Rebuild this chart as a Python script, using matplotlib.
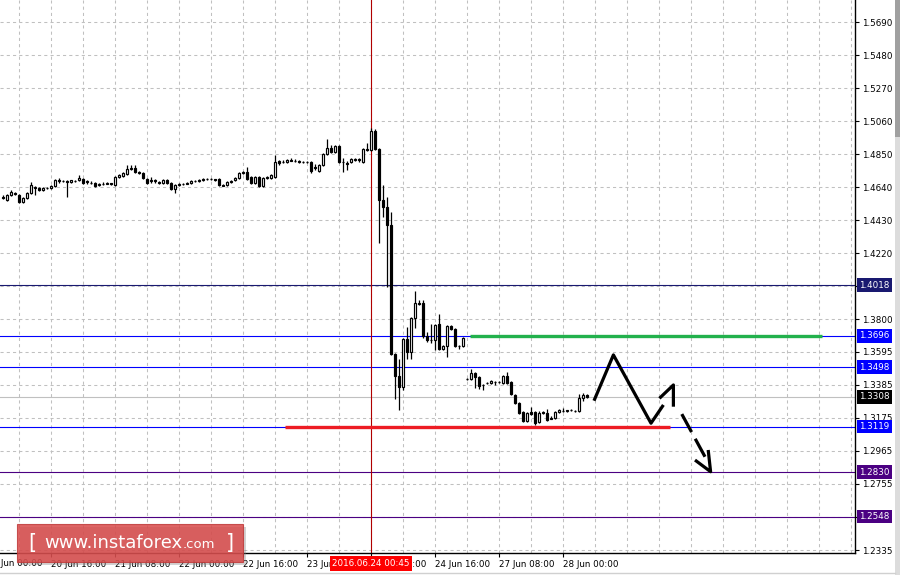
import numpy as np
import matplotlib
matplotlib.use('Agg')
import matplotlib.pyplot as plt
from matplotlib.patches import Rectangle

# GBPUSD H1 bars, index 0 = 20 Jun 00:00 (weekend hours skipped)
first_bar = 4
bar_open = [
    1.4578, 1.4559, 1.4591, 1.4604, 1.4591, 1.4546, 1.4572, 1.4604, 1.4635, 1.4635,
    1.4623, 1.4635, 1.4635, 1.4648, 1.4686, 1.4680, 1.4680, 1.4674, 1.4680, 1.4686,
    1.4693, 1.4674, 1.4667, 1.4667, 1.4654, 1.4661, 1.4661, 1.4667, 1.4654, 1.4705,
    1.4712, 1.4724, 1.4756, 1.4762, 1.4737, 1.4731, 1.4693, 1.4680, 1.4686, 1.4674,
    1.4667, 1.4686, 1.4667, 1.4629, 1.4654, 1.4661, 1.4658, 1.4667, 1.4680, 1.4680,
    1.4686, 1.4693, 1.4690, 1.4693, 1.4693, 1.4654, 1.4654, 1.4674, 1.4686, 1.4699,
    1.4731, 1.4737, 1.4705, 1.4667, 1.4705, 1.4648, 1.4699, 1.4699, 1.4705, 1.4807,
    1.4801, 1.4801, 1.4813, 1.4810, 1.4807, 1.4801, 1.4798, 1.4801, 1.4769, 1.4743,
    1.4781, 1.4851, 1.4890, 1.4864, 1.4902, 1.4801, 1.4794, 1.4801, 1.4813, 1.4820,
    1.4801, 1.4883, 1.4877, 1.4998, 1.4883, 1.4559, 1.4515, 1.4401, 1.3581, 1.3441,
    1.3371, 1.3676, 1.3594, 1.3810, 1.3905, 1.3905, 1.3695, 1.3670, 1.3670, 1.3771,
    1.3613, 1.3632, 1.3759, 1.3740, 1.3632, 1.3632, 1.3422, 1.3422, 1.3460, 1.3434,
    1.3384, 1.3397, 1.3397, 1.3403, 1.3403, 1.3397, 1.3441, 1.3403, 1.3320, 1.3269,
    1.3212, 1.3155, 1.3212, 1.3212, 1.3149, 1.3212, 1.3206, 1.3174, 1.3174, 1.3212,
    1.3219, 1.3219, 1.3225, 1.3219, 1.3219, 1.3301, 1.3320]
bar_high = [
    1.4591, 1.4597, 1.4623, 1.4610, 1.4597, 1.4578, 1.4610, 1.4674, 1.4648, 1.4642,
    1.4642, 1.4642, 1.4654, 1.4693, 1.4699, 1.4686, 1.4686, 1.4686, 1.4686, 1.4718,
    1.4699, 1.4686, 1.4680, 1.4674, 1.4667, 1.4674, 1.4674, 1.4667, 1.4712, 1.4724,
    1.4737, 1.4781, 1.4781, 1.4781, 1.4743, 1.4737, 1.4699, 1.4705, 1.4693, 1.4680,
    1.4693, 1.4693, 1.4674, 1.4661, 1.4667, 1.4667, 1.4674, 1.4686, 1.4686, 1.4693,
    1.4699, 1.4699, 1.4699, 1.4693, 1.4699, 1.4661, 1.4680, 1.4686, 1.4705, 1.4737,
    1.4743, 1.4769, 1.4712, 1.4712, 1.4712, 1.4705, 1.4712, 1.4724, 1.4845, 1.4813,
    1.4813, 1.4820, 1.4826, 1.4820, 1.4813, 1.4807, 1.4807, 1.4807, 1.4788, 1.4788,
    1.4858, 1.4947, 1.4909, 1.4909, 1.4909, 1.4826, 1.4807, 1.4826, 1.4826, 1.4826,
    1.4890, 1.4921, 1.5017, 1.5011, 1.4890, 1.4654, 1.4578, 1.4483, 1.3588, 1.3549,
    1.3683, 1.3752, 1.3816, 1.3981, 1.3924, 1.3924, 1.3721, 1.3771, 1.3771, 1.3835,
    1.3638, 1.3765, 1.3765, 1.3746, 1.3638, 1.3689, 1.3428, 1.3485, 1.3466, 1.3441,
    1.3390, 1.3403, 1.3416, 1.3409, 1.3409, 1.3447, 1.3466, 1.3409, 1.3327, 1.3276,
    1.3219, 1.3212, 1.3244, 1.3219, 1.3219, 1.3219, 1.3231, 1.3187, 1.3219, 1.3231,
    1.3238, 1.3225, 1.3231, 1.3225, 1.3327, 1.3333, 1.3327]
bar_low = [
    1.4566, 1.4553, 1.4585, 1.4591, 1.4540, 1.4540, 1.4566, 1.4597, 1.4591, 1.4616,
    1.4616, 1.4629, 1.4629, 1.4642, 1.4667, 1.4674, 1.4578, 1.4667, 1.4674, 1.4680,
    1.4661, 1.4661, 1.4661, 1.4642, 1.4648, 1.4654, 1.4661, 1.4654, 1.4648, 1.4699,
    1.4705, 1.4718, 1.4750, 1.4731, 1.4724, 1.4693, 1.4661, 1.4667, 1.4667, 1.4661,
    1.4661, 1.4661, 1.4623, 1.4604, 1.4648, 1.4654, 1.4658, 1.4661, 1.4674, 1.4674,
    1.4680, 1.4686, 1.4686, 1.4680, 1.4648, 1.4648, 1.4648, 1.4667, 1.4680, 1.4693,
    1.4724, 1.4686, 1.4661, 1.4661, 1.4642, 1.4642, 1.4693, 1.4693, 1.4699, 1.4781,
    1.4794, 1.4794, 1.4807, 1.4801, 1.4794, 1.4794, 1.4794, 1.4731, 1.4750, 1.4737,
    1.4775, 1.4845, 1.4858, 1.4858, 1.4794, 1.4737, 1.4750, 1.4794, 1.4807, 1.4801,
    1.4794, 1.4870, 1.4870, 1.4877, 1.4286, 1.4451, 1.4006, 1.3575, 1.3295, 1.3225,
    1.3352, 1.3549, 1.3549, 1.3746, 1.3892, 1.3683, 1.3657, 1.3651, 1.3606, 1.3606,
    1.3606, 1.3562, 1.3733, 1.3626, 1.3613, 1.3626, 1.3416, 1.3416, 1.3365, 1.3358,
    1.3352, 1.3390, 1.3390, 1.3384, 1.3397, 1.3390, 1.3390, 1.3320, 1.3263, 1.3199,
    1.3149, 1.3149, 1.3193, 1.3130, 1.3142, 1.3199, 1.3155, 1.3168, 1.3168, 1.3206,
    1.3212, 1.3212, 1.3219, 1.3212, 1.3212, 1.3282, 1.3301]
bar_close = [
    1.4572, 1.4591, 1.4610, 1.4597, 1.4546, 1.4572, 1.4604, 1.4654, 1.4642, 1.4623,
    1.4635, 1.4638, 1.4648, 1.4686, 1.4680, 1.4683, 1.4674, 1.4686, 1.4683, 1.4699,
    1.4667, 1.4677, 1.4664, 1.4648, 1.4661, 1.4658, 1.4667, 1.4661, 1.4705, 1.4718,
    1.4731, 1.4756, 1.4762, 1.4737, 1.4731, 1.4699, 1.4667, 1.4686, 1.4680, 1.4667,
    1.4686, 1.4667, 1.4629, 1.4654, 1.4661, 1.4658, 1.4667, 1.4680, 1.4677, 1.4686,
    1.4693, 1.4690, 1.4693, 1.4686, 1.4654, 1.4651, 1.4674, 1.4680, 1.4699, 1.4731,
    1.4737, 1.4693, 1.4667, 1.4705, 1.4648, 1.4699, 1.4705, 1.4718, 1.4801, 1.4794,
    1.4798, 1.4813, 1.4810, 1.4807, 1.4801, 1.4798, 1.4801, 1.4743, 1.4762, 1.4781,
    1.4851, 1.4890, 1.4864, 1.4902, 1.4801, 1.4798, 1.4790, 1.4820, 1.4820, 1.4813,
    1.4883, 1.4877, 1.4998, 1.4883, 1.4559, 1.4515, 1.4401, 1.3581, 1.3441, 1.3371,
    1.3676, 1.3594, 1.3810, 1.3905, 1.3899, 1.3695, 1.3670, 1.3667, 1.3765, 1.3613,
    1.3632, 1.3759, 1.3740, 1.3632, 1.3629, 1.3683, 1.3419, 1.3460, 1.3434, 1.3377,
    1.3381, 1.3394, 1.3409, 1.3400, 1.3406, 1.3441, 1.3397, 1.3327, 1.3269, 1.3206,
    1.3155, 1.3206, 1.3199, 1.3142, 1.3206, 1.3209, 1.3161, 1.3171, 1.3212, 1.3225,
    1.3216, 1.3222, 1.3228, 1.3216, 1.3301, 1.3320, 1.3308]

price_ticks = [1.5690, 1.5480, 1.5270, 1.5060, 1.4850, 1.4640, 1.4430, 1.4220, 1.4010,
               1.3800, 1.3595, 1.3385, 1.3175, 1.2965, 1.2755, 1.2545, 1.2335]
hidden_ticks = [1.4010, 1.2545]   # covered by level boxes in the terminal
time_ticks = [0, 16, 32, 48, 64, 80, 96, 112, 128, 144]
time_labels = ['20 Jun 00:00', '20 Jun 16:00', '21 Jun 08:00', '22 Jun 00:00',
               '22 Jun 16:00', '23 Jun 08:00', '24 Jun 00:00', '24 Jun 16:00',
               '27 Jun 08:00', '28 Jun 00:00']

levels = [1.4018, 1.3696, 1.3498, 1.3119, 1.2830, 1.2548]
level_colors = ['#191970', '#0000ff', '#0000ff', '#0000ff', '#4b0082', '#4b0082']

crosshair_bar = 96
crosshair_label = '2016.06.24 00:45'

resistance = (120.75, 208.75, 1.3696)
support = (74.5, 170.75, 1.3119)
forecast_path = [(151.75, 1.3284), (156.6, 1.3575), (166.0, 1.3141), (169.1, 1.3257)]
forecast_head = [(168.1, 1.3299), (171.6, 1.3384), (171.6, 1.3246)]
target_path = [(173.7, 1.3199), (179.5, 1.2928)]
target_head = [(177.0, 1.2907), (180.9, 1.2833), (180.3, 1.2971)]

plt.rcParams['font.family'] = ['DejaVu Sans']
W, H = 900, 575
fig = plt.figure(figsize=(9, 5.75), dpi=100)
ax = fig.add_axes([0, 22 / H, 855 / W, 553 / H])
ax.set_xlim(3.25, 217)
ax.set_ylim(1.23165, 1.58298)

# grid
grid_kw = dict(color='#c0c0c0', lw=0.75, ls=(0, (3, 3)), zorder=1)
for gx in np.arange(0, 217, 8):
    ax.axvline(gx, **grid_kw)
for gy in price_ticks:
    ax.axhline(gy, **grid_kw)

# horizontal levels
for lv, col in zip(levels, level_colors):
    ax.axhline(lv, color=col, lw=0.8, zorder=2)
last_price = bar_close[-1]
ax.axhline(last_price, color='#c0c0c0', lw=0.8, zorder=2)
ax.axvline(crosshair_bar, color='#b00000', lw=0.8, zorder=2)

# candles
o = np.array(bar_open)
h = np.array(bar_high)
l = np.array(bar_low)
c = np.array(bar_close)
x = np.arange(first_bar, first_bar + len(c))
up = c >= o
lo = np.minimum(o, c)
hh = np.maximum(np.abs(c - o), 0.00004)
ax.vlines(x, l, h, color='black', lw=0.9, zorder=3)
ax.bar(x[up], hh[up], bottom=lo[up], width=0.6, facecolor='white',
       edgecolor='black', linewidth=0.85, zorder=4)
ax.bar(x[~up], hh[~up], bottom=lo[~up], width=0.6, facecolor='black',
       edgecolor='black', linewidth=0.85, zorder=4)

# drawn objects
ax.plot(resistance[:2], [resistance[2]] * 2, color='#22b14c', lw=2.4, zorder=5,
        solid_capstyle='butt')
ax.plot(support[:2], [support[2]] * 2, color='#ed1c24', lw=2.4, zorder=5,
        solid_capstyle='butt')
arrow_kw = dict(color='black', lw=2.3, zorder=6, solid_capstyle='butt')
ax.plot(*zip(*forecast_path), **arrow_kw)
ax.plot(*zip(*forecast_head), **arrow_kw)
ax.plot(*zip(*target_path), color='black', lw=2.3, zorder=6, ls=(0, (6.4, 2.4)))
ax.plot(*zip(*target_head), **arrow_kw)

# axes styling
for s in ['left', 'top']:
    ax.spines[s].set_visible(False)
for s in ['right', 'bottom']:
    ax.spines[s].set_color('black')
    ax.spines[s].set_linewidth(1)
ax.yaxis.tick_right()
ax.set_yticks(price_ticks)
ax.set_yticklabels(['' if p in hidden_ticks else '%.4f' % p for p in price_ticks])
ax.tick_params(axis='y', direction='out', length=3, width=0.8, pad=2,
               labelsize=6.3, colors='black')
ax.set_xticks(time_ticks[1:])
ax.set_xticklabels(time_labels[1:], ha='left')
ax.tick_params(axis='x', direction='out', length=3, width=0.8, pad=2,
               labelsize=6.3, colors='black')
ax.annotate(time_labels[0], xy=(time_ticks[0], 0), xycoords=('data', 'axes fraction'),
            xytext=(0, -4.3), textcoords='offset points', ha='left', va='top',
            fontsize=6.3, annotation_clip=False)

# level price boxes
for lv, col in zip(levels + [last_price], level_colors + ['black']):
    ax.annotate('%.4f' % lv, xy=(1, lv), xycoords=('axes fraction', 'data'),
                xytext=(3.2, 0), textcoords='offset points', ha='left', va='center',
                fontsize=6.3, color='white', annotation_clip=False, zorder=7,
                bbox=dict(boxstyle='square,pad=0.25', fc=col, ec='none'))

# crosshair time box
ax.annotate(crosshair_label, xy=(crosshair_bar, 0), xycoords=('data', 'axes fraction'),
            xytext=(0, -4.3), textcoords='offset points', ha='center', va='top',
            fontsize=6.3, color='white', annotation_clip=False, zorder=7,
            bbox=dict(boxstyle='square,pad=0.3', fc='#ff0000', ec='none'))

# watermark
fig.patches.append(Rectangle((20 / W, (H - 565) / H), 226 / W, 38 / H,
                             transform=fig.transFigure, fc='#808080', alpha=0.35,
                             ec='none', zorder=8))
fig.patches.append(Rectangle((17 / W, (H - 562) / H), 226 / W, 38 / H,
                             transform=fig.transFigure, fc='#d94a4a', alpha=0.85,
                             ec='#c03a3a', lw=0.8, zorder=9))
ty = (H - 543) / H
fig.text(28 / W, ty, '[', color='white', fontsize=15, va='center', ha='left', zorder=10)
fig.text(44 / W, ty, 'www.instaforex', color='white', fontsize=13, va='center',
         ha='left', zorder=10)
fig.text(183 / W, ty - 0.002, '.com', color='white', fontsize=9.5, va='center',
         ha='left', zorder=10)
fig.text(226 / W, ty, ']', color='white', fontsize=15, va='center', ha='left', zorder=10)

# right panel edge and bottom border
fig.patches.append(Rectangle((895 / W, 0), 5 / W, 1, transform=fig.transFigure,
                             fc='#dcdcdc', ec='none'))
fig.patches.append(Rectangle((895 / W, (H - 137) / H), 5 / W, 137 / H,
                             transform=fig.transFigure, fc='#a0a0a0', ec='none'))
fig.lines.append(plt.Line2D([0, 895 / W], [2 / H, 2 / H], transform=fig.transFigure,
                            color='#d0d0d0', lw=1))

fig.savefig('out.png', dpi=100)
